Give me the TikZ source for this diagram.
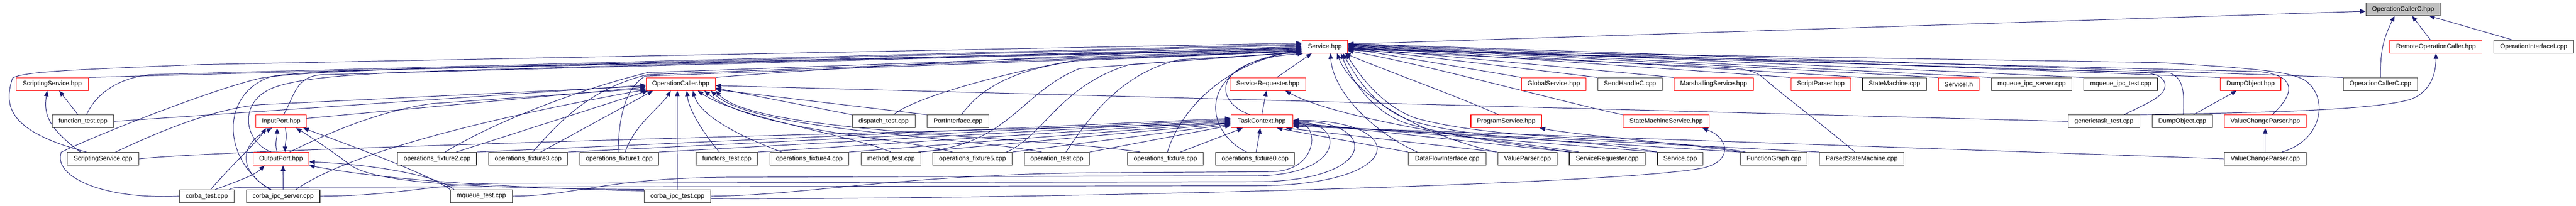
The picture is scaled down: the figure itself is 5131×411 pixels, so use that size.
\documentclass[tikz,border=0pt]{standalone}
\usepackage{fontspec}
\setmainfont{Liberation Sans}
\usetikzlibrary{arrows.meta}
\definecolor{navy}{HTML}{191970}
\definecolor{bord}{HTML}{333333}
\definecolor{hlred}{HTML}{FF0000}
\definecolor{rootgray}{HTML}{BFBFBF}
\pgfdeclarelayer{bg}
\pgfsetlayers{bg,main}
\tikzset{
 nd/.style={rectangle, draw=bord, line width=1.2pt, fill=white, minimum height=25.6pt, inner sep=0pt, font=\fontsize{12.8}{15}\selectfont},
 hl/.style={nd, draw=hlred},
 rt/.style={nd, fill=rootgray},
 dep/.style={draw=navy, line width=1pt, -{Triangle[length=11pt,width=9pt]}},
}
\newcommand\bx[6]{\node[#6, minimum width={(#3-#2)*1pt}] (#1) at ({(#2+#3)/2},#4) {#5};}
\begin{document}
\begin{tikzpicture}[x=1pt,y=1pt]
\useasboundingbox (0,0) rectangle (5131,411);
% row 0
\bx{occh}{4712.7}{4860.3}{392.5}{OperationCallerC.hpp}{rt}
% row 1
\bx{svch}{2593.3}{2684.3}{317.8}{Service.hpp}{hl}
\bx{roc}{4760.3}{4943.7}{317.8}{RemoteOperationCaller.hpp}{hl}
\bx{oii}{4967.3}{5126.3}{317.8}{OperationInterfaceI.cpp}{nd}
% row 2
\bx{ssh}{32.3}{175.7}{243}{ScriptingService.hpp}{hl}
\bx{och}{1287}{1425}{243}{OperationCaller.hpp}{hl}
\bx{srh}{2450}{2600.7}{243}{ServiceRequester.hpp}{hl}
\bx{gsh}{3030.7}{3159}{243}{GlobalService.hpp}{hl}
\bx{shc}{3182.3}{3311}{243}{SendHandleC.cpp}{nd}
\bx{msh}{3334.3}{3492.3}{243}{MarshallingService.hpp}{hl}
\bx{sph}{3567.3}{3686.3}{243}{ScriptParser.hpp}{hl}
\bx{smc}{3709.7}{3837}{243}{StateMachine.cpp}{nd}
\bx{sih}{3860.7}{3942.3}{243}{ServiceI.h}{hl}
\bx{mis}{3966.3}{4127}{243}{mqueue\_ipc\_server.cpp}{nd}
\bx{mit}{4150.7}{4297.7}{243}{mqueue\_ipc\_test.cpp}{nd}
\bx{doh}{4422.7}{4543}{243}{DumpObject.hpp}{hl}
\bx{occc}{4667.7}{4815}{243}{OperationCallerC.cpp}{nd}
% row 3
\bx{ftc}{104}{226.7}{168.5}{function\_test.cpp}{nd}
\bx{iph}{509.7}{610.3}{168.5}{InputPort.hpp}{hl}
\bx{dtc}{1697.3}{1822.7}{168.5}{dispatch\_test.cpp}{nd}
\bx{pic}{1846.7}{1969.7}{168.5}{PortInterface.cpp}{nd}
\bx{tch}{2451.7}{2575}{168.5}{TaskContext.hpp}{hl}
\bx{psh}{2929.7}{3070.3}{168.5}{ProgramService.hpp}{hl}
\bx{smsh}{3233}{3404.3}{168.5}{StateMachineService.hpp}{hl}
\bx{gtc}{4119.3}{4262.3}{168.5}{generictask\_test.cpp}{nd}
\bx{doc}{4286.7}{4407}{168.5}{DumpObject.cpp}{nd}
\bx{vcph}{4430.3}{4593.7}{168.5}{ValueChangeParser.hpp}{hl}
% row 4
\bx{ssc}{133.7}{276.7}{93.8}{ScriptingService.cpp}{nd}
\bx{oph}{504.3}{615.3}{93.8}{OutputPort.hpp}{hl}
\bx{of2}{792}{949.3}{93.8}{operations\_fixture2.cpp}{nd}
\bx{of3}{973.3}{1130.7}{93.8}{operations\_fixture3.cpp}{nd}
\bx{of1}{1154.7}{1312}{93.8}{operations\_fixture1.cpp}{nd}
\bx{fnt}{1386.3}{1509.3}{93.8}{functors\_test.cpp}{nd}
\bx{of4}{1533.3}{1690.7}{93.8}{operations\_fixture4.cpp}{nd}
\bx{mtc}{1715.3}{1834.3}{93.8}{method\_test.cpp}{nd}
\bx{of5}{1858.3}{2016}{93.8}{operations\_fixture5.cpp}{nd}
\bx{otc}{2040.3}{2170}{93.8}{operation\_test.cpp}{nd}
\bx{ofx}{2246}{2396.7}{93.8}{operations\_fixture.cpp}{nd}
\bx{of0}{2421.3}{2578.7}{93.8}{operations\_fixture0.cpp}{nd}
\bx{dfi}{2805.3}{2960}{93.8}{DataFlowInterface.cpp}{nd}
\bx{vpc}{2983.3}{3102}{93.8}{ValueParser.cpp}{nd}
\bx{src}{3125.7}{3277}{93.8}{ServiceRequester.cpp}{nd}
\bx{svc}{3301.3}{3392}{93.8}{Service.cpp}{nd}
\bx{fgc}{3467.3}{3599.7}{93.8}{FunctionGraph.cpp}{nd}
\bx{psm}{3624}{3792.3}{93.8}{ParsedStateMachine.cpp}{nd}
\bx{vcpc}{4430.3}{4593.7}{93.8}{ValueChangeParser.cpp}{nd}
% row 5
\bx{ct}{357.7}{466}{19.2}{corba\_test.cpp}{nd}
\bx{cis}{490.7}{637.3}{19.2}{corba\_ipc\_server.cpp}{nd}
\bx{mqt}{897}{1020.3}{19.2}{mqueue\_test.cpp}{nd}
\bx{cit}{1283.3}{1415.3}{19.2}{corba\_ipc\_test.cpp}{nd}

\begin{pgfonlayer}{bg}
% root
\draw[dep] ([yshift=5pt]svch.east) -- ([yshift=-4pt]occh.west);
\draw[dep] (occc.north) .. controls +(0,55) and +(-22,-45) .. ([xshift=-17pt]occh.south);
\draw[dep] ([xshift=-11pt]roc.north) -- ([xshift=18pt]occh.south);
\draw[dep] ([xshift=-42pt]oii.north) -- ([xshift=52pt]occh.south);
% remote operation caller
\draw[dep] (gtc.north east) .. controls (4500,186) and (4720,190) .. (4800,212) .. controls (4845,228) and (4852,270) .. (roc.south);
% scripting service hpp
\draw[dep] ([xshift=-10pt]ftc.north) -- ([xshift=14pt]ssh.south);
\draw[dep] ([xshift=-45pt]ssc.north) .. controls +(-60,45) and +(-8,-50) .. ([xshift=-10pt]ssh.south);
% service.hpp from the left
\draw[dep] (ssh.north east) -- ([yshift=3pt]svch.west);
\draw[dep] (och.north east) .. controls +(300,25) and +(-250,-5) .. ([yshift=-2pt]svch.west);
\draw[dep] ([xshift=7pt]ftc.north) .. controls +(20,45) and +(-60,-6) .. (300,262) -- ([yshift=5pt]svch.west);
\draw[dep] ([xshift=-33pt]ssc.north) .. controls +(-150,40) and +(-20,-60) .. (25,255) .. controls +(20,13) and +(-250,-10) .. (400,282) -- ([yshift=7pt]svch.west);
\draw[dep] (ct.west) .. controls (200,12) and (105,60) .. (122,107) .. controls (200,145) and (430,235) .. (520,255) .. controls (560,262) and (650,268) .. (900,276) -- ([yshift=-4pt]svch.west);
\draw[dep] ([xshift=-27pt]cis.north) .. controls (440,95) and (440,225) .. (540,258) .. controls (600,270) and (800,272) .. (1000,277) -- ([yshift=-6pt]svch.west);
\draw[dep] ([xshift=5pt]iph.north) .. controls +(25,45) and +(-60,0) .. (650,262) -- ([yshift=-3pt]svch.west);
\draw[dep] ([xshift=-20pt]oph.north) .. controls (485,130) and (475,205) .. (540,234) .. controls (590,255) and (700,264) .. (900,270) -- (svch.west);
\draw[dep] ([xshift=16pt]of2.north) .. controls (980,165) and (1150,232) .. (1290,266) -- ([yshift=-5pt]svch.west);
\draw[dep] ([xshift=9pt]of3.north) .. controls (1120,175) and (1180,235) .. (1290,262) -- ([yshift=-7pt]svch.west);
\draw[dep] ([xshift=-2pt]of1.north) .. controls (1232,175) and (1245,235) .. (1285,259) -- ([yshift=-9pt]svch.west);
\draw[dep] ([xshift=20pt]dtc.north) .. controls (1820,216) and (2000,266) .. (2150,292) -- ([yshift=-8pt]svch.west);
\draw[dep] ([xshift=7pt]pic.north) .. controls (1950,230) and (2010,272) .. (2150,290) -- ([yshift=-9pt]svch.west);
\draw[dep] ([xshift=-4pt]mtc.north east) .. controls (2010,120) and (2030,225) .. (2150,274) -- ([yshift=-10pt]svch.west);
\draw[dep] ([xshift=-12pt]of5.north east) .. controls (2080,140) and (2110,240) .. (2250,282) -- ([yshift=-11pt]svch.west);
\draw[dep] ([xshift=18pt]otc.north) .. controls (2165,170) and (2230,265) .. (2350,292) -- ([yshift=-12pt]svch.west);
\draw[dep] ([xshift=4pt]ofx.north) .. controls (2345,175) and (2420,280) .. ([yshift=-6pt]svch.west);
\draw[dep] ([xshift=-17pt]of0.north) .. controls (2395,150) and (2380,285) .. ([yshift=-9pt]svch.west);
\draw[dep] ([xshift=-23pt]tch.north) .. controls (2420,205) and (2405,290) .. ([xshift=3pt]svch.south west);
\draw[dep] ([xshift=18pt]srh.north) -- ([xshift=20pt]svch.south west);
% service.hpp from the right, row 2
\foreach \n/\s in {gsh/-3,shc/-2,msh/-1,sph/0,smc/1,sih/2,mis/3,mit/4,doh/5,occc/6}
  \draw[dep] (\n.north west) -- ([yshift=\s pt]svch.east);
% service.hpp, right curves
\draw[dep] ([xshift=40pt]gtc.north) .. controls +(50,25) and +(5,-25) .. (4312,245) .. controls +(-4,12) and +(25,-3) .. (4272,266) -- ([yshift=-3pt]svch.east);
\draw[dep] ([xshift=2pt]doc.north) .. controls (4350,220) and (4352,255) .. (4322,265) -- ([yshift=-4pt]svch.east);
\draw[dep] ([xshift=14pt]vcph.north) .. controls (4572,225) and (4575,260) .. (4500,268) -- ([yshift=-5pt]svch.east);
\draw[dep] ([xshift=33pt]vcpc.north) .. controls (4625,130) and (4640,215) .. (4592,250) .. controls (4565,266) and (4520,273) .. (4300,286) -- ([yshift=-6pt]svch.east);
% service.hpp, bottom right
\draw[dep] ([xshift=-60pt]dfi.north) .. controls (2730,150) and (2655,230) .. ([xshift=-35pt]svch.south east);
\draw[dep] ([xshift=-63pt]vpc.north) .. controls (2800,150) and (2690,235) .. ([xshift=-22pt]svch.south east);
\draw[dep] ([xshift=-15pt]psh.north) .. controls (2900,220) and (2760,270) .. ([xshift=-6pt]svch.south east);
\draw[dep] ([xshift=20pt]src.north west) .. controls (3000,130) and (2900,135) .. (2800,165) .. controls (2730,190) and (2690,255) .. ([xshift=-14pt]svch.south east);
\draw[dep] (svc.north west) .. controls (3150,135) and (2950,128) .. (2810,170) .. controls (2740,195) and (2700,258) .. ([xshift=-10pt]svch.south east);
\draw[dep] ([xshift=10pt]fgc.north west) .. controls (3300,140) and (3000,125) .. (2820,175) .. controls (2750,200) and (2705,265) .. ([xshift=-4pt]svch.south east);
\draw[dep] ([xshift=-13pt]psm.north) .. controls (3620,170) and (3540,230) .. (3512,256) .. controls (3495,270) and (3470,274) .. (3440,276) -- ([yshift=-7pt]svch.east);
\draw[dep] (smsh.north west) .. controls (3120,205) and (2850,280) .. ([yshift=-8pt]svch.east);
% operation caller
\draw[dep] (ftc.east) -- ([yshift=-2pt]och.west);
\draw[dep] ([xshift=25pt]ssc.north) .. controls (320,150) and (430,195) .. (520,202) -- ([yshift=-4pt]och.west);
\draw[dep] ([yshift=6pt]iph.east) -- ([yshift=-6pt]och.west);
\draw[dep] ([xshift=17pt]oph.north) .. controls (663,150) and (760,190) .. (860,204) -- ([yshift=-9pt]och.west);
\draw[dep] ([xshift=26pt]cis.north) .. controls (700,110) and (1000,180) .. ([yshift=-11pt]och.west);
\draw[dep] ([xshift=38pt]of2.north) -- ([xshift=4pt]och.south west);
\draw[dep] ([xshift=25pt]of3.north) -- ([xshift=14pt]och.south west);
\draw[dep] ([xshift=12pt]of1.north) .. controls (1262,160) and (1318,200) .. ([xshift=-20pt]och.south);
\draw[dep] (cit.north) -- ([xshift=-7pt]och.south);
\draw[dep] ([xshift=-15pt]fnt.north) .. controls (1405,140) and (1372,190) .. ([xshift=12pt]och.south);
\draw[dep] ([xshift=-55pt]of4.north) .. controls (1470,140) and (1395,180) .. ([xshift=24pt]och.south);
\draw[dep] (mtc.north) .. controls (1700,140) and (1470,175) .. ([xshift=34pt]och.south);
\draw[dep] ([xshift=-40pt]of5.north) .. controls (1800,135) and (1500,150) .. ([xshift=47pt]och.south);
\draw[dep] ([xshift=-30pt]otc.north) .. controls (1900,140) and (1500,150) .. ([xshift=60pt]och.south);
\draw[dep] ([xshift=-50pt]ofx.north) .. controls (2050,140) and (1500,145) .. (och.south east);
\draw[dep] (dtc.north west) -- ([yshift=-8pt]och.east);
\draw[dep] (pic.north west) -- ([yshift=-11pt]och.east);
\draw[dep] (gtc.west) -- ([yshift=-3pt]och.east);
% input / output ports
\draw[dep] ([xshift=-8pt]oph.north) .. controls +(-5,20) and +(0,-20) .. ([xshift=-8pt]iph.south);
\draw[dep] ([xshift=8pt]iph.south) .. controls +(5,-20) and +(0,20) .. ([xshift=8pt]oph.north);
\draw[dep] ([xshift=8pt]ct.north) .. controls (460,80) and (510,125) .. ([xshift=-30pt]iph.south);
\draw[dep] ([xshift=-24pt]cis.north) .. controls (470,70) and (480,125) .. ([xshift=-18pt]iph.south);
\draw[dep] (mqt.north west) .. controls (860,60) and (700,120) .. ([xshift=44pt]iph.south);
\draw[dep] (cit.north west) .. controls (1000,35) and (760,40) .. (700,80) .. controls (660,110) and (615,140) .. ([xshift=30pt]iph.south);
\draw[dep] ([xshift=17pt]ct.north) .. controls +(40,15) and +(-20,-20) .. ([xshift=-33pt]oph.south);
\draw[dep] (cis.north) -- ([xshift=4pt]oph.south);
\draw[dep] ([xshift=8pt]mqt.north west) .. controls (870,60) and (750,82) .. ([yshift=-6pt]oph.east);
\draw[dep] ([yshift=-3pt]cit.north west) .. controls (1100,34) and (800,45) .. (oph.south east);
% task context
\draw[dep] ([xshift=2pt]of0.north) -- ([xshift=-3pt]tch.south);
\draw[dep] ([xshift=30pt]ofx.north) -- ([xshift=-38pt]tch.south);
\draw[dep] (ssc.east) .. controls (450,112) and (1500,140) .. ([yshift=-4pt]tch.west);
\foreach \n/\s in {of2/6,of3/4,of1/2,fnt/0,of4/-2,of5/-6,otc/-8}
  \draw[dep] (\n.north east) -- ([yshift=\s pt]tch.west);
\draw[dep] ([xshift=-6pt]mtc.north east) -- ([yshift=-4pt]tch.west);
\draw[dep] (dfi.north west) -- ([xshift=-32pt]tch.south east);
\draw[dep] (vpc.north west) -- ([xshift=-14pt]tch.south east);
\foreach \n/\s in {src/-2,svc/-4,fgc/-6,psm/-8}
  \draw[dep] (\n.north west) -- ([yshift=\s pt]tch.east);
\draw[dep] (vcpc.west) -- ([yshift=-10pt]tch.east);
\draw[dep] ([xshift=-10pt]ct.north east) .. controls +(10,4) and +(-20,0) .. (490,37) -- (2500,40) .. controls (2808,40) and (2808,172) .. ([yshift=2pt]tch.east);
\draw[dep] (cis.east) .. controls (800,20) and (850,43) .. (1000,45) -- (2500,48) .. controls (2748,48) and (2748,170) .. (tch.east);
\draw[dep] (mqt.east) .. controls (1150,20) and (1200,55) .. (1450,57) -- (2500,60) .. controls (2681,60) and (2681,168) .. ([yshift=-2pt]tch.east);
\draw[dep] (cit.east) .. controls (1600,20) and (1800,64) .. (2200,66) -- (2530,68) .. controls (2628,68) and (2628,165) .. ([yshift=-4pt]tch.east);
% state machine service
\draw[dep] ([yshift=-5pt]cit.east) .. controls (2000,12) and (3200,40) .. (3390,75) .. controls (3452,88) and (3445,135) .. ([xshift=-14pt]smsh.south east);
% program service
\draw[dep] (fgc.north west) .. controls (3350,125) and (3150,140) .. ([xshift=-4pt]psh.south east);
% service requester
\draw[dep] (tch.north) -- ([xshift=-3pt]srh.south);
\draw[dep] ([xshift=5pt]src.north west) .. controls (2950,130) and (2660,175) .. ([xshift=35pt]srh.south);
% dump object / value change parser
\draw[dep] ([xshift=22pt]doc.north) -- ([xshift=-28pt]doh.south);
\draw[dep] (vcpc.north) -- (vcph.south);
\end{pgfonlayer}
\end{tikzpicture}
\end{document}
